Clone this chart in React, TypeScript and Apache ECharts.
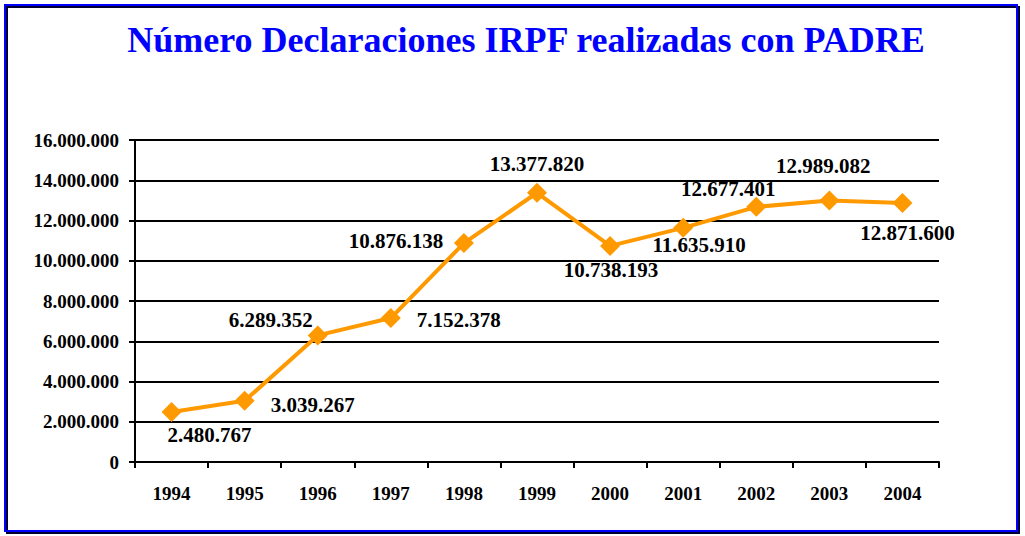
import React, { useEffect, useRef } from "react";
import * as echarts from "echarts";

const years = ["1994", "1995", "1996", "1997", "1998", "1999", "2000", "2001", "2002", "2003", "2004"];
const declaraciones = [2480767, 3039267, 6289352, 7152378, 10876138, 13377820, 10738193, 11635910, 12677401, 12989082, 12871600];
const yTicks = { min: 0, max: 16000000, interval: 2000000 };
const titleText = "Número Declaraciones IRPF realizadas con PADRE";

// label placement (layout only), relative to each point
const labelOffsets: [number, number][] = [
  [38, 23], [68, 4], [-47, -15], [68, 2], [-68, -2], [0, -29],
  [1, 24], [16, 17], [-28, -18], [-6, -35], [5, 30],
];

const fmt = (v: number) => String(Math.round(v)).replace(/\B(?=(\d{3})+(?!\d))/g, ".");

const FONT = "Liberation Serif";

export default function App() {
  const ref = useRef<HTMLDivElement>(null);
  useEffect(() => {
    if (!ref.current) return;
    const chart = echarts.init(ref.current, null, { renderer: "svg" });
    chart.setOption({
      animation: false,
      backgroundColor: "#ffffff",
      title: {
        text: titleText,
        left: 521,
        top: 17,
        textAlign: "center",
        textStyle: { fontFamily: FONT, fontWeight: "bold", fontSize: 36, color: "#0000FF" },
      },
      graphic: [
        { type: "rect", shape: { x: 7, y: 7, width: 1012, height: 526 }, style: { fill: "none", stroke: "#000033", lineWidth: 2 }, z: 100 },
        { type: "rect", shape: { x: 5, y: 5, width: 1012, height: 526 }, style: { fill: "none", stroke: "#0000FF", lineWidth: 2 }, z: 101 },
      ],
      grid: { left: 135, right: 86, top: 140, bottom: 74 },
      xAxis: {
        type: "category",
        data: years,
        boundaryGap: true,
        axisLine: { show: true, lineStyle: { color: "#000", width: 2 } },
        axisTick: { show: true, length: 6, lineStyle: { color: "#000", width: 2 } },
        axisLabel: { margin: 22, fontFamily: FONT, fontWeight: "bold", fontSize: 19, color: "#000" },
        splitLine: { show: false },
      },
      yAxis: {
        type: "value",
        min: yTicks.min,
        max: yTicks.max,
        interval: yTicks.interval,
        axisLine: { show: true, lineStyle: { color: "#000", width: 2 } },
        axisTick: { show: true, length: 6, lineStyle: { color: "#000", width: 2 } },
        axisLabel: { margin: 16, fontFamily: FONT, fontWeight: "bold", fontSize: 19, color: "#000", formatter: (v: number) => fmt(v) },
        splitLine: { show: true, lineStyle: { color: "#000", width: 2 } },
      },
      series: [
        {
          type: "line",
          data: declaraciones.map((v, i) => ({
            value: v,
            label: { offset: labelOffsets[i] },
          })),
          color: "#FF9900",
          lineStyle: { color: "#FF9900", width: 4 },
          itemStyle: { color: "#FF9900" },
          symbol: "diamond",
          symbolSize: 20,
          showAllSymbol: true,
          label: {
            show: true,
            position: "inside",
            align: "center",
            verticalAlign: "middle",
            fontFamily: FONT,
            fontWeight: "bold",
            fontSize: 21,
            color: "#000",
            formatter: (p: any) => fmt(p.value),
          },
          z: 5,
        },
      ],
    });
    return () => chart.dispose();
  }, []);
  return <div ref={ref} style={{ position: "fixed", left: 0, top: 0, width: 1025, height: 536 }} />;
}
